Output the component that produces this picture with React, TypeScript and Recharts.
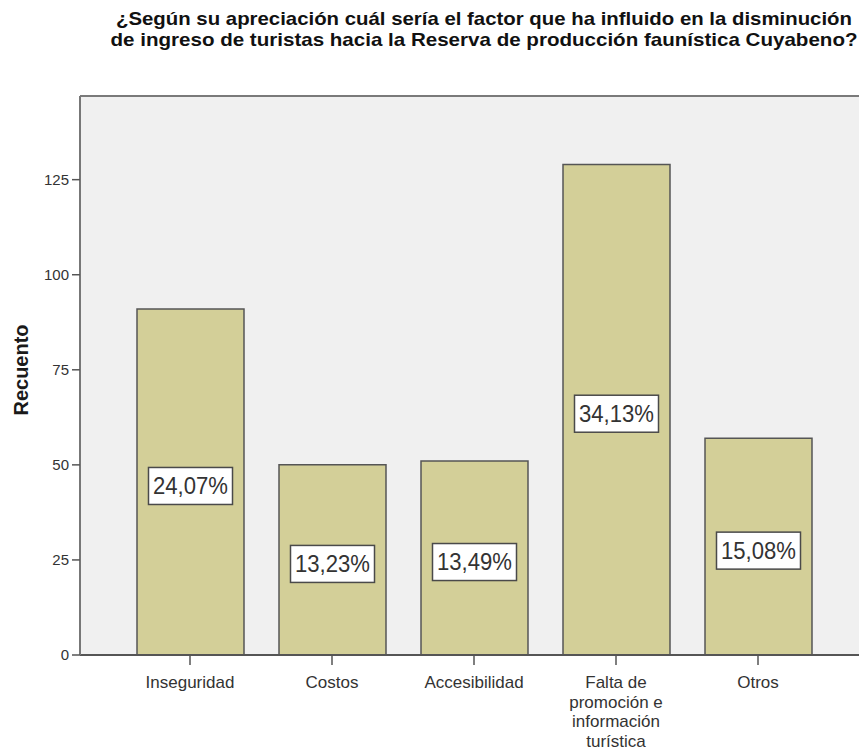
import React from 'react';
import { BarChart, Bar, XAxis, YAxis, CartesianGrid, LabelList, ReferenceLine } from 'recharts';

const categories = [
  'Inseguridad',
  'Costos',
  'Accesibilidad',
  'Falta de promoción e información turística',
  'Otros',
];
const counts = [91, 50, 51, 129, 57];
const yTicks = [0, 25, 50, 75, 100, 125];
const yMax = 147;
const titleLines = [
  '¿Según su apreciación cuál sería el factor que ha influido en la disminución',
  'de ingreso de turistas hacia la Reserva de producción faunística Cuyabeno?',
];

const total = counts.reduce((a, b) => a + b, 0);
const data = categories.map((c, i) => ({ name: c, value: counts[i] }));
const FONT = '"Liberation Sans", Arial, Helvetica, sans-serif';

function wrap(text: string, maxChars: number): string[] {
  const words = text.split(' ');
  const lines: string[] = [];
  let cur = '';
  for (const w of words) {
    const next = cur ? cur + ' ' + w : w;
    if (next.length > maxChars && cur) {
      lines.push(cur);
      cur = w;
    } else {
      cur = next;
    }
  }
  if (cur) lines.push(cur);
  return lines;
}

const XTick = (props: any) => {
  const { x, y, payload } = props;
  const lines = wrap(String(payload.value), 12);
  return (
    <g>
      <text textAnchor="middle" fontFamily={FONT} fontSize={17} fill="#333">
        {lines.map((l, i) => (
          <tspan key={i} x={x} y={y + 21 + i * 19.5}>
            {l}
          </tspan>
        ))}
      </text>
    </g>
  );
};

const PctLabel = (props: any) => {
  const { x, y, width, height, value } = props;
  const cx = Number(x) + Number(width) / 2;
  const cy = Number(y) + Number(height) / 2 + 4;
  const txt = ((Number(value) / total) * 100).toFixed(2).replace('.', ',') + '%';
  return (
    <g>
      <rect x={cx - 42} y={cy - 18.5} width={84} height={37} fill="#ffffff" stroke="#4a4a4a" strokeWidth={1.5} />
      <text
        x={cx}
        y={cy + 8}
        textAnchor="middle"
        fontFamily={FONT}
        fontSize={23}
        fill="#333"
        textLength={75}
        lengthAdjust="spacingAndGlyphs"
      >
        {txt}
      </text>
    </g>
  );
};

const YLabel = (props: any) => {
  const { viewBox } = props;
  const bx = (viewBox?.x ?? 0) + 28;
  const by = 370;
  return (
    <text
      x={bx}
      y={by}
      transform={`rotate(-90, ${bx}, ${by})`}
      textAnchor="middle"
      fontFamily={FONT}
      fontWeight="bold"
      fontSize={20}
      fill="#1a1a1a"
    >
      Recuento
    </text>
  );
};

export default function App() {
  return (
    <div
      style={{
        position: 'absolute',
        left: 0,
        top: 0,
        width: 859,
        height: 752,
        overflow: 'hidden',
        background: '#ffffff',
      }}
    >
      <svg
        width={859}
        height={60}
        style={{ position: 'absolute', left: 0, top: 0 }}
      >
        {titleLines.map((t, i) => (
          <text
            key={i}
            x={484}
            y={25 + i * 21}
            textAnchor="middle"
            fontFamily={FONT}
            fontWeight="bold"
            fontSize={19}
            fill="#111"
            textLength={i === 0 ? 736 : 747}
            lengthAdjust="spacingAndGlyphs"
          >
            {t}
          </text>
        ))}
      </svg>
      <div style={{ position: 'absolute', left: 0, top: 0 }}>
        <BarChart
          width={900}
          height={752}
          data={data}
          margin={{ top: 96, right: 32, bottom: 67, left: 0 }}
        >
          <CartesianGrid horizontal={false} vertical={false} fill="#f0f0f0" fillOpacity={1} />
          <ReferenceLine y={yMax} stroke="#7a7a7a" strokeWidth={2} />
          <XAxis
            dataKey="name"
            type="category"
            height={30}
            padding={{ left: 39, right: 39 }}
            tickSize={10}
            tickMargin={2}
            interval={0}
            axisLine={{ stroke: '#555', strokeWidth: 2 }}
            tickLine={{ stroke: '#555', strokeWidth: 1.5 }}
            tick={<XTick />}
          />
          <YAxis
            width={80}
            domain={[0, yMax]}
            ticks={yTicks}
            tickSize={8}
            tickMargin={3}
            axisLine={{ stroke: '#777', strokeWidth: 2 }}
            tickLine={{ stroke: '#555', strokeWidth: 1.5 }}
            tick={{ fontFamily: FONT, fontSize: 15, fill: '#333' }}
            label={{ content: <YLabel /> }}
          />
          <Bar
            dataKey="value"
            barSize={107}
            fill="#d3cf98"
            stroke="#555"
            strokeWidth={1.5}
            isAnimationActive={false}
          >
            <LabelList dataKey="value" content={<PctLabel />} />
          </Bar>
        </BarChart>
      </div>
    </div>
  );
}
